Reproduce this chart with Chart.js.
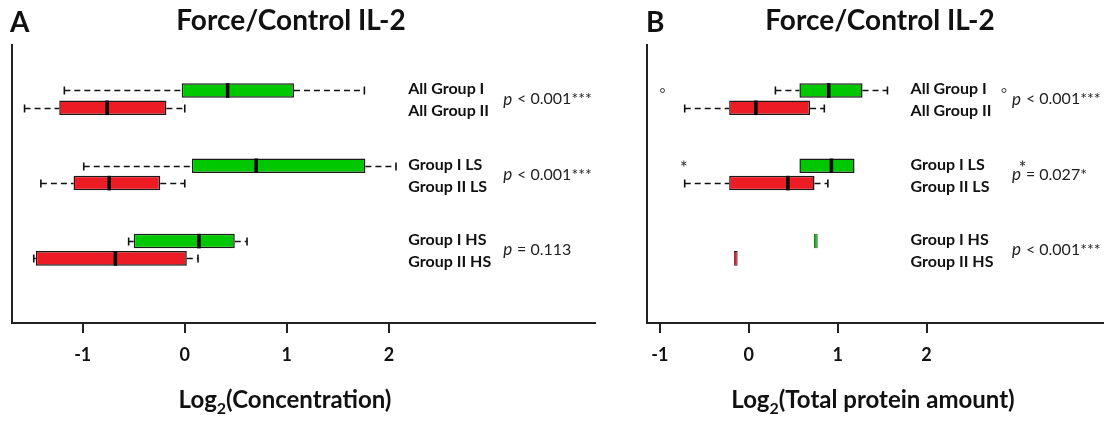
<!DOCTYPE html>
<html>
<head>
<meta charset="utf-8">
<script src="https://cdn.jsdelivr.net/npm/chart.js@4.4.1/dist/chart.umd.min.js"></script>
<style>
  body { margin: 0; background: #fff; }
  canvas { position: absolute; top: 0; }
  #chartA { left: 0; }
  #chartB { left: 620px; }
</style>
</head>
<body>
<canvas id="chartA" width="620" height="423"></canvas>
<canvas id="chartB" width="489" height="423"></canvas>
<script>
// 행 위치와 라벨
const groups = [1, 2, 3];
const rowLabels = [
    ['All Group I', 'All Group II'],
    ['Group I LS', 'Group II LS'],
    ['Group I HS', 'Group II HS']
];
const xTicks = [-1, 0, 1, 2];

// A: Log2(Concentration)  [min, q1, median, q3, max]
const concGroup1 = [[-1.18, -0.03, 0.42, 1.07, 1.76], [-0.99, 0.07, 0.70, 1.77, 2.07], [-0.55, -0.50, 0.14, 0.49, 0.61]];
const concGroup2 = [[-1.57, -1.23, -0.76, -0.18, 0.00], [-1.41, -1.09, -0.74, -0.24, 0.00], [-1.48, -1.46, -0.68, 0.02, 0.13]];
const concPValues = ['< 0.001***', '< 0.001***', '= 0.113'];

// B: Log2(Total protein amount)
const protGroup1 = [[0.30, 0.57, 0.90, 1.28, 1.56], [0.57, 0.57, 0.93, 1.19, 1.19], [0.735, 0.735, 0.755, 0.775, 0.775]];
const protGroup2 = [[-0.72, -0.22, 0.08, 0.69, 0.85], [-0.72, -0.22, 0.44, 0.74, 0.89], [-0.165, -0.165, -0.145, -0.125, -0.125]];
const protOutliers1 = [[-0.97, 2.87], [-0.73, 3.08], []];
const protPValues = ['< 0.001***', '= 0.027*', '< 0.001***'];

const FONT = 'Lato';
const INK = '#111';

// 수염, 중앙값, 이상치
const boxExtras = {
    id: 'boxExtras',
    afterDatasetsDraw(chart) {
        const ctx = chart.ctx, xs = chart.scales.x;
        chart.data.datasets.forEach((ds, di) => {
            const meta = chart.getDatasetMeta(di);
            meta.data.forEach((bar, i) => {
                const [lo, q1, med, q3, hi] = ds.stats[i];
                const y = Math.round(bar.y) + 0.5, h = bar.height;
                const px = v => xs.getPixelForValue(v);
                ctx.save();
                ctx.strokeStyle = INK;
                ctx.lineWidth = 1.6;
                ctx.setLineDash([6, 4]);
                ctx.beginPath();
                if (lo < q1) { ctx.moveTo(px(lo), y); ctx.lineTo(px(q1), y); }
                if (hi > q3) { ctx.moveTo(px(q3), y); ctx.lineTo(px(hi), y); }
                ctx.stroke();
                ctx.setLineDash([]);
                ctx.beginPath();
                if (lo < q1) { ctx.moveTo(px(lo), y - 4); ctx.lineTo(px(lo), y + 4); }
                if (hi > q3) { ctx.moveTo(px(hi), y - 4); ctx.lineTo(px(hi), y + 4); }
                ctx.stroke();
                // median (hidden on very narrow boxes)
                if (px(q3) - px(q1) > 6) {
                    ctx.lineWidth = 3.5;
                    ctx.strokeStyle = '#000';
                    ctx.beginPath();
                    ctx.moveTo(px(med), bar.y - h / 2);
                    ctx.lineTo(px(med), bar.y + h / 2);
                    ctx.stroke();
                }
                // outliers
                (ds.outliers ? ds.outliers[i] : []).forEach(v => {
                    ctx.lineWidth = 1;
                    ctx.strokeStyle = '#333';
                    ctx.beginPath();
                    if (ds.outlierMarks[i] === 'star') {
                        for (let k = 0; k < 3; k++) {
                            const a = Math.PI / 2 + k * Math.PI / 3;
                            ctx.moveTo(px(v) + 3 * Math.cos(a), y - 3 + 3 * Math.sin(a));
                            ctx.lineTo(px(v) - 3 * Math.cos(a), y - 3 - 3 * Math.sin(a));
                        }
                    } else {
                        ctx.arc(px(v), y, 2, 0, Math.PI * 2);
                    }
                    ctx.stroke();
                });
                ctx.restore();
            });
        });
    }
};

// 제목, 라벨, p값, 축 제목
const textLayer = {
    id: 'textLayer',
    afterDraw(chart, args, o) {
        const ctx = chart.ctx, xs = chart.scales.x, ys = chart.scales.y;
        ctx.save();
        ctx.fillStyle = INK;
        ctx.textBaseline = 'alphabetic';
        ctx.font = `bold 28px ${FONT}`;
        ctx.textAlign = 'left';
        ctx.fillText(o.letter, o.letterX, 32);
        ctx.textAlign = 'center';
        ctx.fillText('Force/Control IL-2', o.titleX, 30);

        groups.forEach((g, i) => {
            const yc = ys.getPixelForValue(g);
            ctx.font = `bold 16px ${FONT}`;
            ctx.textAlign = 'left';
            ctx.textBaseline = 'middle';
            ctx.fillText(rowLabels[i][0], xs.getPixelForValue(o.labelAt), yc - 10);
            ctx.fillText(rowLabels[i][1], xs.getPixelForValue(o.labelAt), yc + 12);
            let x = xs.getPixelForValue(o.pAt);
            ctx.font = `italic 17px ${FONT}`;
            ctx.fillStyle = '#222';
            ctx.fillText('p', x, yc);
            x += ctx.measureText('p ').width + 1;
            ctx.font = `16px ${FONT}`;
            ctx.fillText(o.pValues[i], x, yc);
            ctx.fillStyle = INK;
        });

        // axis title with subscript
        ctx.textBaseline = 'alphabetic';
        ctx.textAlign = 'left';
        const main = `bold 24px ${FONT}`, sub = `bold 16px ${FONT}`;
        ctx.font = main;
        const w1 = ctx.measureText('Log').width;
        const w3 = ctx.measureText(o.axisTitle).width;
        ctx.font = sub;
        const w2 = ctx.measureText('2').width;
        const x0 = o.axisTitleX - (w1 + w2 + w3) / 2;
        ctx.font = main;
        ctx.fillText('Log', x0, 408);
        ctx.font = sub;
        ctx.fillText('2', x0 + w1, 414);
        ctx.font = main;
        ctx.fillText(o.axisTitle, x0 + w1 + w2, 408);
        ctx.restore();
    }
};

// 아주 좁은 상자는 테두리를 얇게
const boxBorder = c => (c.raw && Math.abs(c.raw.x[1] - c.raw.x[0]) < 0.08 ? 0.8 : 1.5);

function makeChart(id, g1, g2, out1, pValues, cfg) {
    const toBars = rows => rows.map((r, i) => ({ x: [r[1], r[3]], y: groups[i] }));
    return new Chart(document.getElementById(id), {
        type: 'bar',
        data: {
            datasets: [{
                label: 'Group I',
                data: toBars(g1),
                stats: g1,
                outliers: out1,
                outlierMarks: ['circle', 'star', 'circle'],
                backgroundColor: '#00c800',
                borderColor: '#1a1a1a',
                borderWidth: boxBorder,
                borderSkipped: false
            }, {
                label: 'Group II',
                data: toBars(g2),
                stats: g2,
                backgroundColor: '#ed1c24',
                borderColor: '#1a1a1a',
                borderWidth: boxBorder,
                borderSkipped: false
            }]
        },
        options: {
            indexAxis: 'y',
            responsive: false,
            animation: false,
            categoryPercentage: 0.46,
            barPercentage: 0.84,
            layout: { padding: { left: cfg.padLeft, right: cfg.padRight, top: 45, bottom: 50 } },
            plugins: {
                legend: { display: false },
                tooltip: { enabled: false },
                textLayer: {
                    letter: cfg.letter, letterX: cfg.letterX, titleX: cfg.titleX,
                    labelAt: cfg.labelAt, pAt: cfg.pAt, pValues: pValues,
                    axisTitle: cfg.axisTitle, axisTitleX: cfg.axisTitleX
                }
            },
            scales: {
                x: {
                    type: 'linear',
                    min: cfg.xMin,
                    max: cfg.xMax,
                    afterBuildTicks: s => { s.ticks = xTicks.map(v => ({ value: v })); },
                    afterFit: s => { s.height = 50; },
                    border: { display: true, color: '#222', width: 2 },
                    grid: { display: true, drawOnChartArea: false, drawTicks: true, tickLength: 10, color: '#222', lineWidth: 2 },
                    ticks: { color: INK, font: { family: FONT, size: 18, weight: 'bold' }, padding: 11 }
                },
                y: {
                    type: 'linear',
                    reverse: true,
                    offset: false,
                    min: 0.281,
                    max: 3.973,
                    afterFit: s => { s.width = 0; },
                    border: { display: true, color: '#222', width: 2 },
                    grid: { display: false, offset: false },
                    ticks: { display: false, stepSize: 1, includeBounds: false }
                }
            }
        },
        plugins: [boxExtras, textLayer]
    });
}

const chartA = makeChart('chartA', concGroup1, concGroup2, null, concPValues, {
    padLeft: 12, padRight: 25, xMin: -1.693, xMax: 4.02,
    letter: 'A', letterX: 10, titleX: 291,
    labelAt: 2.19, pAt: 3.12,
    axisTitle: '(Concentration)', axisTitleX: 285
});

const chartB = makeChart('chartB', protGroup1, protGroup2, protOutliers1, protPValues, {
    padLeft: 27, padRight: 6, xMin: -1.144, xMax: 3.984,
    letter: 'B', letterX: 26, titleX: 260,
    labelAt: 1.82, pAt: 2.96,
    axisTitle: '(Total protein amount)', axisTitleX: 253
});
</script>
</body>
</html>
